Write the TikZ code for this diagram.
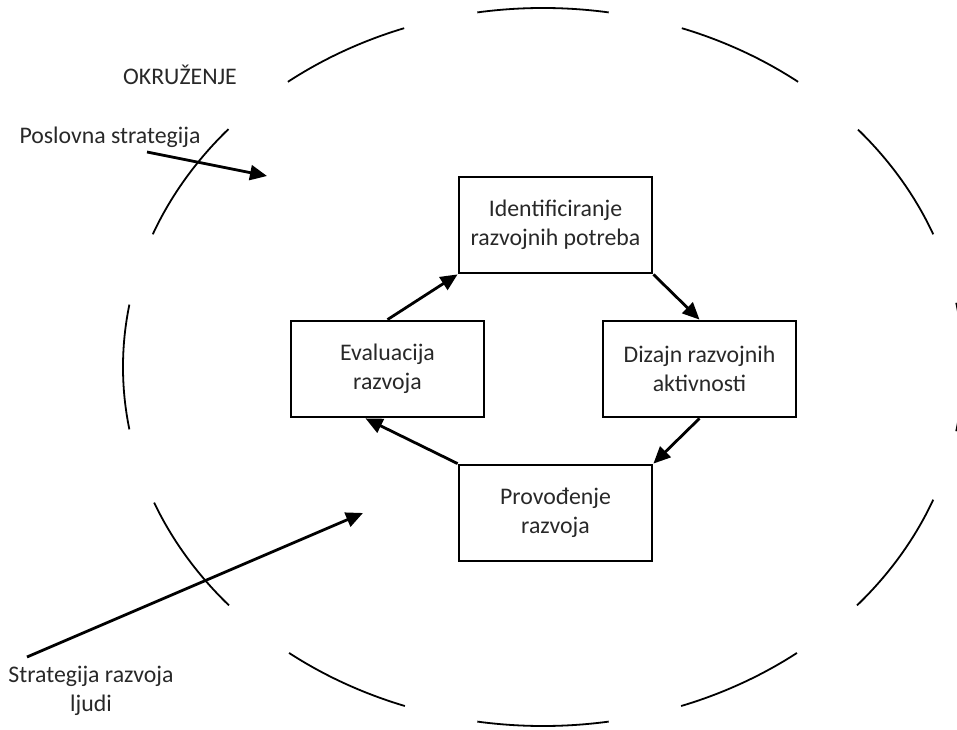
\documentclass[tikz,border=0pt]{standalone}
\usepackage{fontspec}
\setmainfont{Carlito}
\usetikzlibrary{arrows.meta}
\definecolor{txt}{RGB}{40,40,40}
\begin{document}
\begin{tikzpicture}[x=1pt,y=1pt,
  every node/.style={font=\fontsize{23.8}{29}\selectfont, text=txt},
  stepbox/.style={draw=black, line width=2.8pt, rectangle, minimum width=193pt, minimum height=96pt, align=center, inner sep=0pt},
  flow/.style={line width=2.8pt, -{Triangle[length=17pt,width=15pt]}},
  arcline/.style={line width=1.8pt}]
\useasboundingbox (0,0) rectangle (957,729);
% dashed environment ellipse
\coordinate (c) at (543,362);
\foreach \a/\b in {81/99, 109.3/127.4, 138.5/158.3, 170/190, 202.2/221.6, 232.8/250.8, 261/279, 289.2/307.2, 318.4/338.3, 349.7/370.3, 21.7/41.4, 52.6/70.7}{
  \draw[arcline] (c) ++(\a:420pt and 359pt) arc[start angle=\a, end angle=\b, x radius=420pt, y radius=359pt];
}
% boxes
\node[stepbox] (id) at (555.5,504) {Identificiranje\\razvojnih potreba};
\node[stepbox] (ev) at (387.5,360) {Evaluacija\\razvoja};
\node[stepbox] (dz) at (699.5,360) {Dizajn razvojnih\\aktivnosti};
\node[stepbox] (pr) at (555.5,216) {Provođenje\\razvoja};
% cycle arrows
\draw[flow] (ev.north) -- (id.south west);
\draw[flow] (id.south east) -- (dz.north);
\draw[flow] (dz.south) -- (pr.north east);
\draw[flow] (pr.north west) -- ([xshift=-22pt]ev.south);
% labels
\node (ok) at (180,654) {OKRUŽENJE};
\node (ps) at (110,592) {Poslovna strategija};
\node[align=center] (sr) at (91,38) {Strategija razvoja\\ljudi};
% external arrows
\coordinate (ps1) at (147,577);
\coordinate (ps2) at (267,553);
\draw[flow] (ps1) -- (ps2);
\coordinate (sr1) at (27,72);
\coordinate (sr2) at (363,216);
\draw[flow] (sr1) -- (sr2);
\end{tikzpicture}
\end{document}
